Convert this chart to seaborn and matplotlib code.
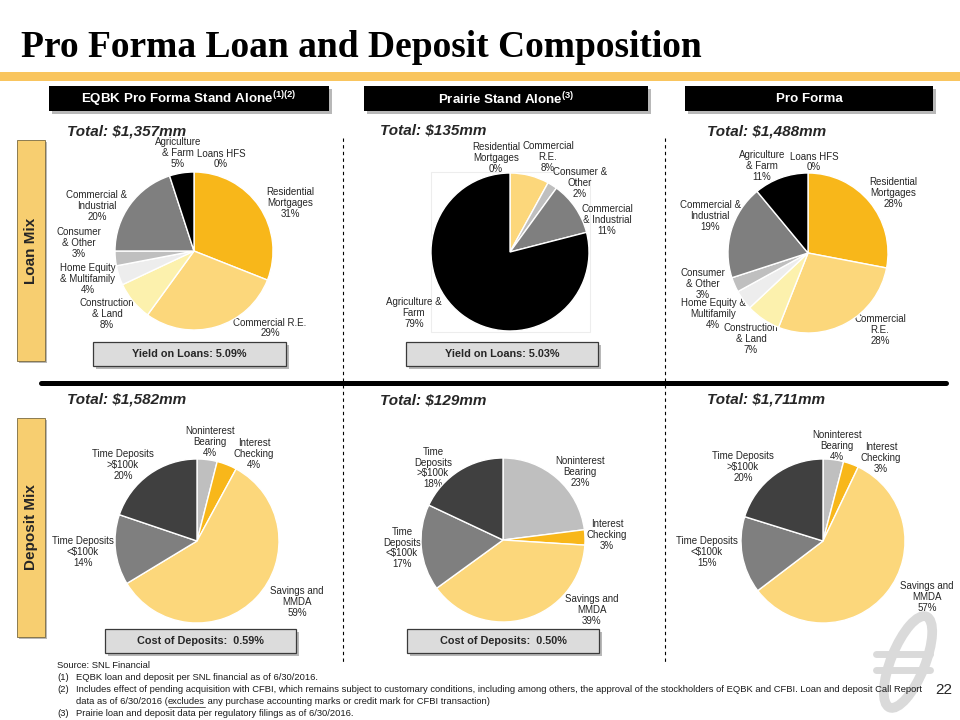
import matplotlib
matplotlib.use("Agg")
import matplotlib.pyplot as plt
import seaborn as sns
from matplotlib.patches import Rectangle, Ellipse

# ---- data -------------------------------------------------------------
headers = ["EQBK Pro Forma Stand Alone", "Prairie Stand Alone", "Pro Forma"]
header_notes = ["(1)(2)", "(3)", ""]
loan_totals = ["$1,357mm", "$135mm", "$1,488mm"]
deposit_totals = ["$1,582mm", "$129mm", "$1,711mm"]
loan_yields = ["5.09%", "5.03%"]
deposit_costs = ["0.59%", "0.50%"]

loan_categories = ["Loans HFS", "Residential Mortgages", "Commercial R.E.",
                   "Construction & Land", "Home Equity & Multifamily",
                   "Consumer & Other", "Commercial & Industrial", "Agriculture & Farm"]
eqbk_loan_labels = ["Loans HFS", "Residential\nMortgages", "Commercial R.E.",
                    "Construction\n& Land", "Home Equity\n& Multifamily",
                    "Consumer\n& Other", "Commercial &\nIndustrial", "Agriculture\n& Farm"]
eqbk_loan_pct = [0, 31, 29, 8, 4, 3, 20, 5]

prairie_loan_categories = ["Residential Mortgages", "Commercial R.E.", "Consumer & Other",
                           "Commercial & Industrial", "Agriculture & Farm"]
prairie_loan_labels = ["Residential\nMortgages", "Commercial\nR.E.", "Consumer &\nOther",
                       "Commercial\n& Industrial", "Agriculture &\nFarm"]
prairie_loan_pct = [0, 8, 2, 11, 79]

proforma_loan_labels = ["Loans HFS", "Residential\nMortgages", "Commercial\nR.E.",
                        "Construction\n& Land", "Home Equity &\nMultifamily",
                        "Consumer\n& Other", "Commercial &\nIndustrial", "Agriculture\n& Farm"]
proforma_loan_pct = [0, 28, 28, 7, 4, 3, 19, 11]

deposit_categories = ["Noninterest Bearing", "Interest Checking", "Savings and MMDA",
                      "Time Deposits <$100k", "Time Deposits >$100k"]
eqbk_dep_labels = ["Noninterest\nBearing", "Interest\nChecking", "Savings and\nMMDA",
                   "Time Deposits\n<$100k", "Time Deposits\n>$100k"]
eqbk_dep_pct = [4, 4, 59, 14, 20]
prairie_dep_labels = ["Noninterest\nBearing", "Interest\nChecking", "Savings and\nMMDA",
                      "Time\nDeposits\n<$100k", "Time\nDeposits\n>$100k"]
prairie_dep_pct = [23, 3, 39, 17, 18]
proforma_dep_labels = eqbk_dep_labels
proforma_dep_pct = [4, 3, 57, 15, 20]

footnotes = [
    ("", "Source: SNL Financial"),
    ("(1)", "EQBK loan and deposit per SNL financial as of 6/30/2016."),
    ("(2)", "Includes effect of pending acquisition with CFBI, which remains subject to customary "
            "conditions, including among others, the approval of the stockholders of EQBK and CFBI. "
            "Loan and deposit Call Report"),
    ("", None),
    ("(3)", "Prairie loan and deposit data per regulatory filings as of 6/30/2016."),
]

# ---- style ------------------------------------------------------------
sns.set_theme(style="white")
plt.rcParams["font.family"] = ["Liberation Sans", "DejaVu Sans"]

gold, light_gold, pale = "#F8B71A", "#FCD77B", "#FCF1AD"
grays = sns.color_palette(["#EDEDED", "#BFBFBF", "#7F7F7F", "#404040", "#000000"])
category_colors = {
    "Loans HFS": "#FFFFFF",
    "Residential Mortgages": gold,
    "Commercial R.E.": light_gold,
    "Construction & Land": pale,
    "Home Equity & Multifamily": grays[0],
    "Consumer & Other": grays[1],
    "Commercial & Industrial": grays[2],
    "Agriculture & Farm": grays[4],
    "Noninterest Bearing": grays[1],
    "Interest Checking": gold,
    "Savings and MMDA": light_gold,
    "Time Deposits <$100k": grays[2],
    "Time Deposits >$100k": grays[3],
}

W, H = 960, 720
fig = plt.figure(figsize=(9.6, 7.2), dpi=100)
bg = fig.add_axes([0, 0, 1, 1])
bg.set_xlim(0, W)
bg.set_ylim(H, 0)
bg.axis("off")

label_color = "#262626"


def shadow_box(x0, y0, x1, y1, face, edge="none", lw=0, off=3):
    bg.add_patch(Rectangle((x0 + off, y0 + off), x1 - x0, y1 - y0, facecolor="#9A9A9A",
                           edgecolor="none", alpha=0.7, zorder=1))
    bg.add_patch(Rectangle((x0, y0), x1 - x0, y1 - y0, facecolor=face, edgecolor=edge,
                           linewidth=lw, zorder=2))


def draw_pie(center, radius, categories, values, labels, label_pos):
    cx, cy = center
    pad = radius * 1.03
    ax = fig.add_axes([(cx - pad) / W, 1 - (cy + pad) / H, 2 * pad / W, 2 * pad / H])
    ax.pie(values, colors=[category_colors[c] for c in categories], startangle=90,
           counterclock=False, wedgeprops=dict(edgecolor="white", linewidth=1.0))
    ax.set_xlim(-1.03, 1.03)
    ax.set_ylim(-1.03, 1.03)
    for text, val, (lx, ly) in zip(labels, values, label_pos):
        bg.text(lx, ly, f"{text}\n{val}%", ha="center", va="center", fontsize=7,
                color=label_color, linespacing=1.1, zorder=5)
    return ax


# ---- title and band -----------------------------------------------------
bg.text(21, 57, "Pro Forma Loan and Deposit Composition", fontsize=27, fontweight="bold",
        family="Liberation Serif", ha="left", va="baseline", color="black")
bg.add_patch(Rectangle((0, 72), W, 9, facecolor="#F9C55E", edgecolor="none"))

# ---- column headers -------------------------------------------------------
header_x = [(49, 329), (364, 648), (685, 933)]
for (x0, x1), head, note in zip(header_x, headers, header_notes):
    shadow_box(x0, 86, x1, 111, "black")
    txt = head + (r"$^{\mathregular{" + note + "}}$" if note else "")
    bg.text((x0 + x1) / 2, 99, txt, color="white", fontsize=9.6, fontweight="bold",
            ha="center", va="center", zorder=3)

# ---- row labels -----------------------------------------------------------
for (y0, y1), lab in zip([(140, 361), (418, 637)], ["Loan Mix", "Deposit Mix"]):
    shadow_box(17, y0, 45, y1, "#F7CE70", edge="#7A6A40", lw=0.6, off=2)
    bg.text(31, (y0 + y1) / 2, lab, rotation=90, fontsize=11, fontweight="bold",
            ha="center", va="center", zorder=3)

# separators
for x in [343, 665]:
    bg.plot([x, x], [138, 662], color="black", lw=0.8, ls=(0, (3, 3)), zorder=0)
bg.plot([41, 946], [383, 383], color="black", lw=3.6, solid_capstyle="round", zorder=3)

# totals
for x, tot in zip([67, 380, 707], loan_totals):
    bg.text(x, 131, f"Total: {tot}", fontsize=11, fontweight="bold", style="italic",
            ha="left", va="center")
for x, tot in zip([67, 380, 707], deposit_totals):
    bg.text(x, 400, f"Total: {tot}", fontsize=11, fontweight="bold", style="italic",
            ha="left", va="center")

# faint frame behind the Prairie loan pie
bg.add_patch(Rectangle((431, 172), 159, 160, facecolor="none", edgecolor="#EDEDED", lw=0.8))

# ---- pies -----------------------------------------------------------------
draw_pie((194, 251), 79, loan_categories, eqbk_loan_pct, eqbk_loan_labels,
         [(221, 159), (290, 203), (270, 328), (107, 314), (88, 279), (79, 243),
          (97, 206), (178, 153)])
draw_pie((510, 252), 79, prairie_loan_categories, prairie_loan_pct, prairie_loan_labels,
         [(496, 158), (548, 157), (580, 183), (607, 220), (414, 313)])
draw_pie((808, 253), 80, loan_categories, proforma_loan_pct, proforma_loan_labels,
         [(814, 162), (893, 193), (880, 330), (751, 339), (713, 314), (703, 284),
          (710, 216), (762, 166)])

draw_pie((197, 541), 82, deposit_categories, eqbk_dep_pct, eqbk_dep_labels,
         [(210, 442), (254, 454), (297, 602), (83, 552), (123, 465)])
draw_pie((503, 540), 82, deposit_categories, prairie_dep_pct, prairie_dep_labels,
         [(580, 472), (607, 535), (592, 610), (402, 548), (433, 468)])
draw_pie((823, 541), 82, deposit_categories, proforma_dep_pct, proforma_dep_labels,
         [(837, 446), (881, 458), (927, 597), (707, 552), (743, 467)])

# ---- yield / cost boxes ------------------------------------------------------
for (x0, x1), val in zip([(93, 286), (406, 598)], loan_yields):
    shadow_box(x0, 342, x1, 366, "#DCDCDC", edge="#3A3A3A", lw=0.9)
    bg.text((x0 + x1) / 2, 354, f"Yield on Loans: {val}", fontsize=7.8, fontweight="bold",
            ha="center", va="center", zorder=3)
for (x0, x1), val in zip([(105, 296), (407, 599)], deposit_costs):
    shadow_box(x0, 629, x1, 653, "#DCDCDC", edge="#3A3A3A", lw=0.9)
    bg.text((x0 + x1) / 2, 641, f"Cost of Deposits:  {val}", fontsize=7.8, fontweight="bold",
            ha="center", va="center", zorder=3)

# ---- logo watermark ------------------------------------------------------------
bg.add_patch(Ellipse((908, 662), 34, 98, angle=22, facecolor="none", edgecolor="#DADADA",
                     lw=7, zorder=0))
for y in [654, 670]:
    bg.plot([876, 930], [y, y], color="#DADADA", lw=5, zorder=0)

# ---- footnotes -------------------------------------------------------------
foot_kw = dict(fontsize=6.75, color="#1A1A1A", ha="left", va="center")
foot_y = [666, 678, 690, 702, 714]
for (num, txt), y in zip(footnotes, foot_y):
    if num:
        bg.text(57, y, num, **foot_kw)
    if txt:
        bg.text(57 if not num else 76, y, txt, **foot_kw)

renderer = fig.canvas.get_renderer()
inv = bg.transData.inverted()
t1 = bg.text(76, 702, "data as of 6/30/2016 (", **foot_kw)
x_end = inv.transform(t1.get_window_extent(renderer).get_points())[1][0]
t2 = bg.text(x_end, 702, "excludes", **foot_kw)
pts = inv.transform(t2.get_window_extent(renderer).get_points())
bg.plot([pts[0][0], pts[1][0]], [707, 707], color="#1A1A1A", lw=0.5)
bg.text(pts[1][0], 702, " any purchase accounting marks or credit mark for CFBI transaction)",
        **foot_kw)

bg.text(944, 690, "22", fontsize=11, ha="center", va="center")

fig.savefig("out.png", dpi=100)
